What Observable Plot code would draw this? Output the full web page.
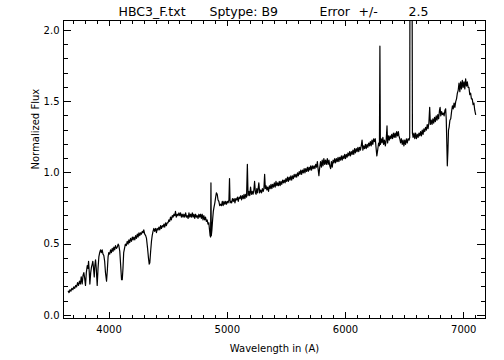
<!DOCTYPE html>
<html><head><meta charset="utf-8">
<script src="https://cdn.jsdelivr.net/npm/d3@7"></script>
<script src="https://cdn.jsdelivr.net/npm/@observablehq/plot@0.6"></script>
<style>body{margin:0;background:#fff}</style>
</head><body><div id="chart"></div>
<script>
const wavelength = [
3655,3662,3670,3678,3686,3694,3702,3710,3718,3726,3734,3742,3750,3758,3765,3773,3780,3787,3794,3801,
3808,3816,3822,3827,3833,3838,3845,3852,3858,3863,3869,3875,3880,3886,3892,3900,3907,3914,3921,3928,
3935,3942,3949,3956,3963,3970,3979,3986,3992,3998,4006,4013,4020,4027,4034,4041,4048,4055,4063,4070,
4077,4083,4091,4100,4106,4112,4118,4124,4131,4138,4146,4154,4161,4168,4175,4182,4190,4197,4204,4210,
4218,4225,4232,4239,4246,4253,4260,4267,4274,4281,4288,4294,4302,4310,4317,4326,4334,4340,4345,4352,
4359,4365,4372,4379,4386,4394,4401,4408,4415,4422,4429,4436,4443,4450,4457,4464,4471,4478,4485,4492,
4499,4506,4513,4520,4527,4535,4542,4549,4556,4562,4569,4577,4584,4591,4598,4605,4612,4619,4626,4633,
4640,4648,4655,4662,4669,4676,4683,4690,4697,4704,4711,4718,4725,4732,4739,4746,4753,4760,4767,4774,
4781,4788,4795,4802,4809,4816,4823,4830,4837,4844,4850,4855,4859,4862,4865,4870,4876,4882,4888,4895,
4902,4908,4915,4922,4929,4936,4944,4951,4958,4965,4972,4979,4986,4993,5000,5007,5014,5019,5024,5030,
5037,5044,5051,5058,5065,5072,5079,5086,5093,5100,5107,5114,5121,5128,5135,5142,5149,5156,5163,5170,
5176,5183,5190,5197,5204,5211,5218,5225,5231,5238,5244,5250,5257,5267,5274,5282,5290,5297,5304,5310,
5316,5322,5328,5335,5342,5349,5356,5363,5370,5377,5384,5391,5398,5405,5412,5419,5426,5433,5440,5447,
5454,5461,5468,5475,5482,5489,5496,5503,5510,5517,5524,5531,5538,5545,5552,5559,5566,5573,5580,5587,
5594,5601,5608,5615,5622,5629,5636,5643,5650,5657,5664,5671,5678,5685,5692,5699,5706,5713,5720,5727,
5734,5741,5748,5755,5762,5768,5775,5782,5789,5796,5803,5810,5817,5824,5831,5838,5846,5853,5860,5867,
5874,5881,5888,5895,5902,5909,5916,5923,5930,5937,5944,5951,5958,5965,5972,5979,5986,5993,6000,6007,
6014,6021,6028,6035,6042,6049,6056,6063,6070,6077,6084,6091,6098,6105,6112,6119,6126,6133,6140,6147,
6154,6161,6168,6175,6182,6189,6196,6203,6210,6217,6224,6231,6238,6245,6252,6258,6265,6272,6280,6287,
6291,6295,6302,6309,6316,6323,6330,6337,6344,6351,6356,6363,6370,6377,6384,6391,6398,6405,6412,6419,
6426,6433,6440,6447,6452,6459,6466,6473,6480,6487,6494,6501,6508,6515,6522,6530,6538,6543,6546,6552,
6557,6562,6566,6572,6579,6586,6593,6600,6607,6614,6621,6628,6635,6642,6649,6656,6663,6670,6677,6684,
6691,6698,6705,6712,6718,6725,6732,6739,6746,6753,6760,6767,6774,6781,6788,6795,6800,6806,6813,6820,
6827,6834,6841,6847,6852,6857,6861,6866,6871,6876,6883,6890,6897,6904,6911,6918,6925,6932,6939,6946,
6953,6960,6967,6974,6981,6988,6995,7002,7009,7016,7023,7030,7037,7044,7051,7058,7065,7072,7079,7086,
7093,7101];
const flux = [
0.17,0.16,0.18,0.17,0.19,0.18,0.20,0.19,0.21,0.20,0.23,0.21,0.24,0.22,0.27,0.22,0.28,0.30,0.26,0.21,
0.30,0.35,0.33,0.38,0.30,0.22,0.30,0.34,0.36,0.38,0.33,0.27,0.35,0.39,0.33,0.21,0.33,0.41,0.44,0.46,
0.44,0.46,0.43,0.42,0.38,0.30,0.24,0.32,0.41,0.44,0.43,0.46,0.44,0.47,0.45,0.48,0.46,0.49,0.47,0.48,
0.50,0.49,0.45,0.33,0.25,0.25,0.33,0.44,0.47,0.50,0.49,0.52,0.50,0.53,0.51,0.54,0.52,0.55,0.53,0.55,
0.53,0.56,0.54,0.57,0.55,0.58,0.56,0.58,0.57,0.59,0.58,0.60,0.57,0.56,0.54,0.47,0.40,0.36,0.37,0.45,
0.52,0.56,0.59,0.61,0.59,0.61,0.58,0.61,0.60,0.62,0.60,0.63,0.61,0.63,0.62,0.64,0.62,0.65,0.63,0.65,
0.65,0.67,0.66,0.69,0.67,0.70,0.69,0.71,0.70,0.73,0.69,0.71,0.70,0.72,0.70,0.72,0.69,0.71,0.69,0.71,
0.69,0.72,0.69,0.70,0.68,0.72,0.69,0.71,0.69,0.72,0.69,0.71,0.68,0.71,0.69,0.70,0.68,0.71,0.69,0.71,
0.68,0.71,0.67,0.70,0.67,0.69,0.66,0.67,0.64,0.65,0.60,0.56,0.55,0.93,0.56,0.60,0.67,0.73,0.76,0.79,
0.83,0.86,0.85,0.81,0.80,0.77,0.78,0.77,0.80,0.77,0.80,0.78,0.80,0.78,0.80,0.79,0.81,0.96,0.79,0.80,
0.79,0.82,0.80,0.82,0.79,0.82,0.81,0.83,0.80,0.83,0.82,0.84,0.81,0.84,0.82,0.85,0.82,0.85,0.83,1.06,
0.84,0.87,0.84,0.90,0.85,0.87,0.85,0.88,0.94,0.86,0.85,0.89,0.86,0.93,0.86,0.88,0.86,0.89,0.87,0.89,
0.99,0.89,0.91,0.88,0.90,0.87,0.91,0.89,0.92,0.89,0.92,0.90,0.93,0.90,0.94,0.91,0.93,0.91,0.94,0.91,
0.94,0.92,0.95,0.93,0.95,0.93,0.96,0.94,0.97,0.94,0.97,0.95,0.98,0.95,0.98,0.96,0.99,0.97,0.99,0.97,
1.00,0.98,1.01,0.99,1.02,0.99,1.02,1.00,1.03,1.00,1.03,1.01,1.04,1.01,1.04,1.02,1.05,1.02,1.05,1.03,
1.05,1.03,1.06,1.04,1.08,1.03,0.98,1.04,1.08,1.04,1.09,1.05,1.10,1.06,1.09,1.06,1.10,1.06,1.09,1.05,
1.03,1.08,1.04,1.09,1.07,1.10,1.07,1.10,1.08,1.11,1.08,1.11,1.09,1.12,1.09,1.12,1.10,1.13,1.10,1.13,
1.11,1.14,1.12,1.15,1.12,1.15,1.13,1.16,1.13,1.17,1.14,1.17,1.15,1.18,1.15,1.18,1.16,1.19,1.23,1.16,
1.19,1.17,1.20,1.17,1.20,1.18,1.21,1.19,1.22,1.19,1.23,1.20,1.24,1.22,1.24,1.18,1.12,1.16,1.21,1.19,
1.89,1.20,1.24,1.21,1.25,1.20,1.23,1.19,1.23,1.33,1.21,1.26,1.23,1.26,1.24,1.27,1.24,1.28,1.25,1.28,
1.25,1.29,1.26,1.29,1.26,1.24,1.21,1.24,1.20,1.23,1.19,1.23,1.20,1.24,1.21,1.24,1.23,1.25,2.80,2.80,
2.80,2.80,1.28,1.25,1.28,1.24,1.28,1.24,1.27,1.25,1.28,1.26,1.29,1.26,1.30,1.27,1.31,1.29,1.32,1.30,
1.34,1.31,1.35,1.46,1.34,1.37,1.34,1.38,1.35,1.39,1.36,1.40,1.37,1.41,1.38,1.44,1.46,1.40,1.43,1.41,
1.42,1.40,1.44,1.45,1.38,1.20,1.05,1.15,1.30,1.32,1.37,1.38,1.43,1.47,1.45,1.49,1.46,1.50,1.52,1.56,
1.58,1.63,1.57,1.64,1.59,1.65,1.60,1.64,1.59,1.66,1.61,1.64,1.60,1.60,1.55,1.56,1.52,1.52,1.48,1.49,
1.44,1.41];
const xMajor = [4000, 5000, 6000, 7000];
const xMinor = [3700,3800,3900,4100,4200,4300,4400,4500,4600,4700,4800,4900,5100,5200,5300,5400,5500,5600,5700,5800,5900,6100,6200,6300,6400,6500,6600,6700,6800,6900,7100];
const yMajor = [0, 0.5, 1.0, 1.5, 2.0];
const yMinor = [0.1,0.2,0.3,0.4,0.6,0.7,0.8,0.9,1.1,1.2,1.3,1.4,1.6,1.7,1.8,1.9];
const titleParts = ["HBC3_F.txt", "Sptype:", "B9", "Error", "+/-", "2.5"];
const xLabel = "Wavelength in (A)";
const yLabel = "Normalized Flux";

const data = wavelength.map((w, i) => ({w, f: flux[i]}));
const W = 504, H = 360, mL = 63, mR = 19, mT = 20, mB = 42;
const fw = W - mL - mR, fh = H - mT - mB;
const titleDx = [55, 146, 198, 256, 295, 345];
const xTicks = (values, side, len) => Plot.tickX(values, {x: d => d, stroke: "#000", strokeWidth: 1, shapeRendering: "crispEdges",
  insetTop: side === "bottom" ? fh - len : 0, insetBottom: side === "top" ? fh - len : 0});
const yTicks = (values, side, len) => Plot.tickY(values, {y: d => d, stroke: "#000", strokeWidth: 1, shapeRendering: "crispEdges",
  insetRight: side === "left" ? fw - len : 0, insetLeft: side === "right" ? fw - len : 0});

const chart = Plot.plot({
  width: W, height: H,
  marginLeft: mL, marginRight: mR, marginTop: mT, marginBottom: mB,
  style: {fontFamily: "DejaVu Sans", fontSize: "10px", background: "#fff", color: "#000"},
  x: {domain: [3615, 7184]},
  y: {domain: [-0.022, 2.07]},
  marks: [
    Plot.line(data, {x: "w", y: "f", stroke: "#000", strokeWidth: 1.2, clip: true}),
    Plot.frame({stroke: "#000", shapeRendering: "crispEdges"}),
    xTicks(xMajor, "bottom", 6), xTicks(xMinor, "bottom", 3.5),
    xTicks(xMajor, "top", 6), xTicks(xMinor, "top", 3.5),
    yTicks(yMajor, "left", 8), yTicks(yMinor, "left", 4.5),
    yTicks(yMajor, "right", 8), yTicks(yMinor, "right", 4.5),
    Plot.axisX({anchor: "bottom", ticks: xMajor, tickSize: 0, tickPadding: 7, tickFormat: d => String(d), label: null}),
    Plot.axisY({anchor: "left", ticks: yMajor, tickSize: 0, tickPadding: 4, tickFormat: d3.format(".1f"), label: null}),
    Plot.text([xLabel], {frameAnchor: "bottom", dy: 30, lineAnchor: "middle", fontSize: 10}),
    Plot.text([yLabel], {frameAnchor: "left", dx: -28, rotate: -90, lineAnchor: "middle", fontSize: 10}),
    ...titleParts.map((t, i) => Plot.text([t], {frameAnchor: "top-left", dx: titleDx[i], dy: -9, textAnchor: "start", lineAnchor: "middle", fontSize: 12.5}))
  ]
});
document.getElementById("chart").appendChild(chart);
</script>
</body></html>
